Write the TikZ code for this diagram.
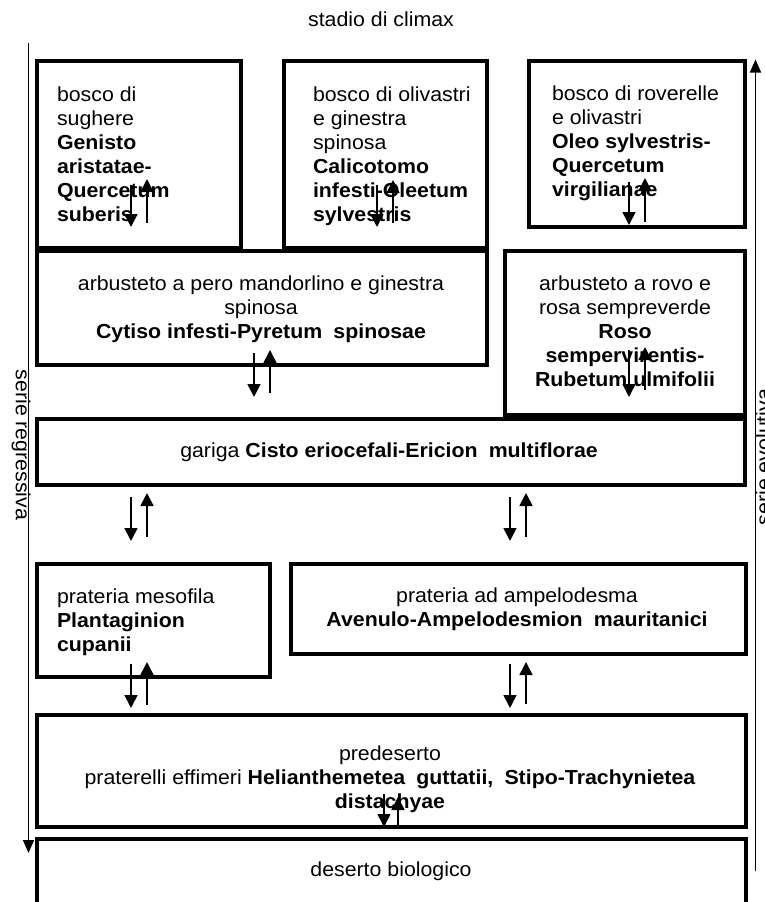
\documentclass[tikz,border=0pt]{standalone}
\usepackage{fontspec}
\setmainfont{Liberation Sans}[FakeStretch=1.05]
\usetikzlibrary{arrows.meta,fit}
\newcommand\fs{\fontsize{20.3}{24}\selectfont}
\newcommand\tl[1]{\begin{tabular}[t]{@{}l@{}}#1\end{tabular}}
\newcommand\tc[1]{\begin{tabular}[t]{@{}c@{}}#1\end{tabular}}
\newcommand\dsp{\hspace{0.55em}}
\tikzset{
  box/.style={draw, line width=4pt, inner sep=0pt, outer sep=0pt},
  txt/.style={inner sep=0pt, outer sep=0pt, font=\fs},
  arr/.style={line width=1.6pt, -{Triangle[width=13pt,length=13pt]}},
  side/.style={line width=1.5pt, -{Triangle[width=11pt,length=13pt]}},
}
\begin{document}
\begin{tikzpicture}[x=1pt,y=-1pt]
\useasboundingbox (0,0) rectangle (764,902);
% boxes
\node[box, fit={(37,61)(241,248)}] (b1) {};
\node[box, fit={(284,61)(487,248)}] (b2) {};
\node[box, fit={(529,61)(745,227)}] (b3) {};
\node[box, fit={(37,251)(487,365)}] (b4) {};
\node[box, fit={(505,251)(745,414.5)}] (b5) {};
\node[box, fit={(37,418.5)(745,484.5)}] (b6) {};
\node[box, fit={(37,563.5)(269.5,677)}] (b7) {};
\node[box, fit={(291,563.5)(745.5,653.5)}] (b8) {};
\node[box, fit={(37,714.5)(745.5,827)}] (b9) {};
\node[box, fit={(37,838.5)(745.5,906)}] (b10) {};
% texts
\node[txt, anchor=base] (top) at (381,27) {stadio di climax};
\node[txt, anchor=base west] (t1) at (57,101) {\tl{bosco di\\sughere\\\textbf{Genisto}\\\textbf{aristatae-}\\\textbf{Quercetum}\\\textbf{suberis}}};
\node[txt, anchor=base west] (t2) at (313,101) {\tl{bosco di olivastri\\e ginestra\\spinosa\\\textbf{Calicotomo}\\\textbf{infesti-Oleetum}\\\textbf{sylvestris}}};
\node[txt, anchor=base west] (t3) at (552,100) {\tl{bosco di roverelle\\e olivastri\\\textbf{Oleo sylvestris-}\\\textbf{Quercetum}\\\textbf{virgilianae}}};
\node[txt, anchor=base] (t4) at (261,290) {\tc{arbusteto a pero mandorlino e ginestra\\spinosa\\\textbf{Cytiso infesti-Pyretum\dsp spinosae}}};
\node[txt, anchor=base] (t5) at (625,290) {\tc{arbusteto a rovo e\\rosa sempreverde\\\textbf{Roso}\\\textbf{sempervirentis-}\\\textbf{Rubetum ulmifolii}}};
\node[txt, anchor=base] (t6) at (389,457) {gariga \textbf{Cisto eriocefali-Ericion\dsp multiflorae}};
\node[txt, anchor=base west] (t7) at (57,603) {\tl{prateria mesofila\\\textbf{Plantaginion}\\\textbf{cupanii}}};
\node[txt, anchor=base] (t8) at (517,602) {\tc{prateria ad ampelodesma\\\textbf{Avenulo-Ampelodesmion\dsp mauritanici}}};
\node[txt, anchor=base] (t9) at (390,760) {\tc{predeserto\\praterelli effimeri \textbf{Helianthemetea\dsp guttatii,\dsp Stipo-Trachynietea}\\\textbf{distachyae}}};
\node[txt, anchor=base] (t10) at (391,876) {deserto biologico};
\node[txt, rotate=-90] (sreg) at (21,445) {serie regressiva};
\node[txt, rotate=90] (sevo) at (763,457) {serie evolutiva};
% side arrows
\coordinate (Ltop) at (28.5,43); \coordinate (Lbot) at (28.5,853);
\coordinate (Rbot) at (755.5,871); \coordinate (Rtop) at (755.5,59.5);
\draw[side] (Ltop) -- (Lbot);
\draw[side] (Rbot) -- (Rtop);
% arrow pairs
\coordinate (d1a) at (131,185); \coordinate (d1b) at (131,227);
\coordinate (u1a) at (147,223); \coordinate (u1b) at (147,179);
\coordinate (d2a) at (377,185); \coordinate (d2b) at (377,227);
\coordinate (u2a) at (393,223); \coordinate (u2b) at (393,180);
\coordinate (d3a) at (629,182); \coordinate (d3b) at (629,225);
\coordinate (u3a) at (645,222); \coordinate (u3b) at (645,178);
\coordinate (d4a) at (254,353); \coordinate (d4b) at (254,397);
\coordinate (u4a) at (270,393); \coordinate (u4b) at (270,350);
\coordinate (d5a) at (629,350); \coordinate (d5b) at (629,397);
\coordinate (u5a) at (645,390); \coordinate (u5b) at (645,347);
\coordinate (d6a) at (131,497); \coordinate (d6b) at (131,541);
\coordinate (u6a) at (147,537); \coordinate (u6b) at (147,493);
\coordinate (d7a) at (510,497); \coordinate (d7b) at (510,541);
\coordinate (u7a) at (526,537); \coordinate (u7b) at (526,493);
\coordinate (d8a) at (131,664); \coordinate (d8b) at (131,708);
\coordinate (u8a) at (147,705); \coordinate (u8b) at (147,662);
\coordinate (d9a) at (510,664); \coordinate (d9b) at (510,708);
\coordinate (u9a) at (526,704); \coordinate (u9b) at (526,662);
\coordinate (d10a) at (384,794); \coordinate (d10b) at (384,827);
\coordinate (u10a) at (398,827); \coordinate (u10b) at (398,797);
\foreach \i in {1,...,10}{
  \draw[arr] (d\i a) -- (d\i b);
  \draw[arr] (u\i a) -- (u\i b);
}
\end{tikzpicture}
\end{document}
